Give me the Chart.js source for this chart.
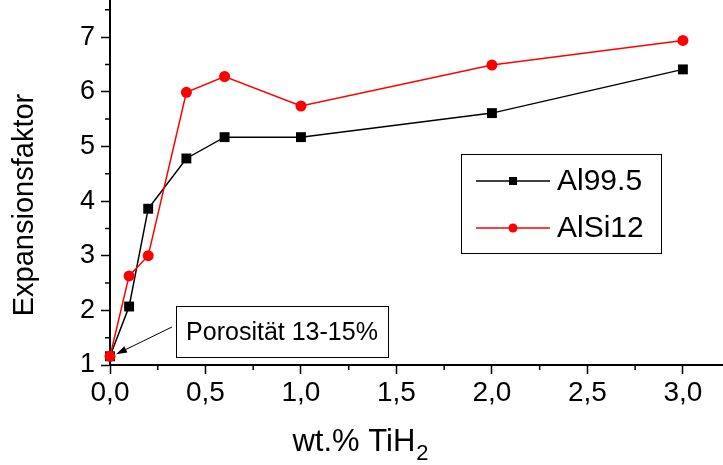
<!DOCTYPE html>
<html lang="de">
<head>
    <meta charset="UTF-8">
    <title>Expansionsfaktor</title>
    <script src="https://cdn.jsdelivr.net/npm/chart.js@4.4.0/dist/chart.umd.min.js"></script>
    <style>
        html, body { margin: 0; padding: 0; background: #fff; }
        #expChart { display: block; }
    </style>
</head>
<body>

    <canvas id="expChart" width="723" height="465"></canvas>

    <script>

        // values
        const tih2   = [0, 0.1, 0.2, 0.4, 0.6, 1.0, 2.0, 3.0];
        const al995  = [1.16, 2.07, 3.86, 4.78, 5.17, 5.17, 5.61, 6.41];
        const alsi12 = [1.16, 2.63, 3.00, 5.99, 6.28, 5.74, 6.49, 6.94];
        const seriesNames = ['Al99.5', 'AlSi12'];
        const xTitle = 'wt.% TiH';
        const xTitleSub = '2';
        const yTitle = 'Expansionsfaktor';
        const noteText = 'Porosität 13-15%';

        const FONT = '"Liberation Sans", Arial, sans-serif';

        function toPoints(xs, ys) {
            let out = [];
            for (let i = 0; i < xs.length; i++) {
                out.push({x: xs[i], y: ys[i]});
            }
            return out;
        }

        // minor ticks, legend, note, axis titles
        const decor = {
            id: 'decor',
            afterDraw(chart) {
                const ctx = chart.ctx;
                const xs = chart.scales.x, ys = chart.scales.y;
                const area = chart.chartArea;

                ctx.save();
                ctx.strokeStyle = '#000';
                ctx.lineWidth = 1.5;
                ctx.beginPath();
                for (let v = 0.25; v < xs.max; v += 0.5) {
                    const px = xs.getPixelForValue(v);
                    ctx.moveTo(px, area.bottom);
                    ctx.lineTo(px, area.bottom + 5);
                }
                for (let v = 1.5; v < ys.max; v += 1) {
                    const py = ys.getPixelForValue(v);
                    ctx.moveTo(area.left - 5, py);
                    ctx.lineTo(area.left, py);
                }
                ctx.stroke();

                // legend
                ctx.lineWidth = 1;
                ctx.strokeRect(461.5, 154.5, 200, 99);
                const rows = [
                    {y: 181, color: '#000', style: 'rect', name: seriesNames[0]},
                    {y: 228, color: '#ff0000', style: 'circle', name: seriesNames[1]}
                ];
                ctx.font = '30px ' + FONT;
                ctx.textBaseline = 'middle';
                ctx.textAlign = 'left';
                rows.forEach(r => {
                    ctx.strokeStyle = r.color;
                    ctx.lineWidth = 1.5;
                    ctx.beginPath();
                    ctx.moveTo(476, r.y);
                    ctx.lineTo(550, r.y);
                    ctx.stroke();
                    ctx.fillStyle = r.color;
                    if (r.style === 'rect') {
                        ctx.fillRect(509, r.y - 4, 8, 8);
                    } else {
                        ctx.beginPath();
                        ctx.arc(513, r.y, 4.5, 0, Math.PI * 2);
                        ctx.fill();
                    }
                    ctx.fillStyle = '#000';
                    ctx.fillText(r.name, 557, r.y + 1);
                });

                // note box with arrow to the first point
                ctx.strokeStyle = '#000';
                ctx.lineWidth = 1;
                ctx.strokeRect(176.5, 306.5, 212, 51);
                ctx.font = '25px ' + FONT;
                ctx.textAlign = 'center';
                ctx.fillStyle = '#000';
                ctx.fillText(noteText, 282, 333);

                const tx = xs.getPixelForValue(tih2[0]) + 6;
                const ty = ys.getPixelForValue(al995[0]) - 2;
                const sx = 172, sy = 327;
                const ang = Math.atan2(ty - sy, tx - sx);
                ctx.beginPath();
                ctx.moveTo(sx, sy);
                ctx.lineTo(tx - 8 * Math.cos(ang), ty - 8 * Math.sin(ang));
                ctx.stroke();
                ctx.beginPath();
                ctx.moveTo(tx, ty);
                ctx.lineTo(tx - 11 * Math.cos(ang) + 3.5 * Math.sin(ang), ty - 11 * Math.sin(ang) - 3.5 * Math.cos(ang));
                ctx.lineTo(tx - 11 * Math.cos(ang) - 3.5 * Math.sin(ang), ty - 11 * Math.sin(ang) + 3.5 * Math.cos(ang));
                ctx.closePath();
                ctx.fill();

                // x title with subscript
                ctx.textAlign = 'left';
                ctx.textBaseline = 'alphabetic';
                ctx.font = '31px ' + FONT;
                const w = ctx.measureText(xTitle).width;
                ctx.font = '22px ' + FONT;
                const ws = ctx.measureText(xTitleSub).width;
                const x0 = 360 - (w + ws) / 2;
                ctx.font = '31px ' + FONT;
                ctx.fillText(xTitle, x0, 451);
                ctx.font = '22px ' + FONT;
                ctx.fillText(xTitleSub, x0 + w + 1, 460);

                // y title
                ctx.translate(33, 205);
                ctx.rotate(-Math.PI / 2);
                ctx.font = '29px ' + FONT;
                ctx.textAlign = 'center';
                ctx.fillText(yTitle, 0, 0);
                ctx.restore();
            }
        };

        const ctx = document.getElementById('expChart').getContext('2d');
        const expChart = new Chart(ctx, {
            type: 'line',
            data: {
                datasets: [{
                    label: seriesNames[1],
                    data: toPoints(tih2, alsi12),
                    borderColor: '#ff0000',
                    backgroundColor: '#ff0000',
                    borderWidth: 1.5,
                    pointStyle: 'circle',
                    pointRadius: 5.5,
                    pointBorderWidth: 0,
                    clip: false
                }, {
                    label: seriesNames[0],
                    data: toPoints(tih2, al995),
                    borderColor: '#000',
                    backgroundColor: '#000',
                    borderWidth: 1.5,
                    pointStyle: 'rect',
                    pointRadius: 7,
                    pointBorderWidth: 0,
                    clip: false
                }]
            },
            options: {
                responsive: false,
                animation: false,
                devicePixelRatio: 1,
                layout: { padding: 0, autoPadding: false },
                plugins: {
                    legend: { display: false },
                    tooltip: { enabled: false }
                },
                scales: {
                    x: {
                        type: 'linear',
                        min: 0,
                        max: 3.21,
                        afterFit: s => {
                            s.height = 100;
                            s.paddingLeft = 0;
                            s.paddingRight = 0;
                        },
                        border: { display: true, color: '#000', width: 2 },
                        grid: { drawOnChartArea: false, drawTicks: true, tickLength: 9, tickColor: '#000', tickWidth: 1.5 },
                        ticks: {
                            stepSize: 0.5,
                            includeBounds: false,
                            maxRotation: 0,
                            padding: 2,
                            color: '#000',
                            font: { family: FONT, size: 28 },
                            callback: v => v.toFixed(1).replace('.', ',')
                        }
                    },
                    y: {
                        min: 1,
                        max: 7.68,
                        afterFit: s => {
                            s.width = 110;
                            s.paddingTop = 0;
                            s.paddingBottom = 0;
                        },
                        border: { display: true, color: '#000', width: 2 },
                        grid: { drawOnChartArea: false, drawTicks: true, tickLength: 9, tickColor: '#000', tickWidth: 1.5 },
                        ticks: {
                            stepSize: 1,
                            includeBounds: false,
                            padding: 6,
                            color: '#000',
                            font: { family: FONT, size: 27 },
                            callback: v => String(v)
                        }
                    }
                }
            },
            plugins: [decor]
        });

    </script>

</body>
</html>
